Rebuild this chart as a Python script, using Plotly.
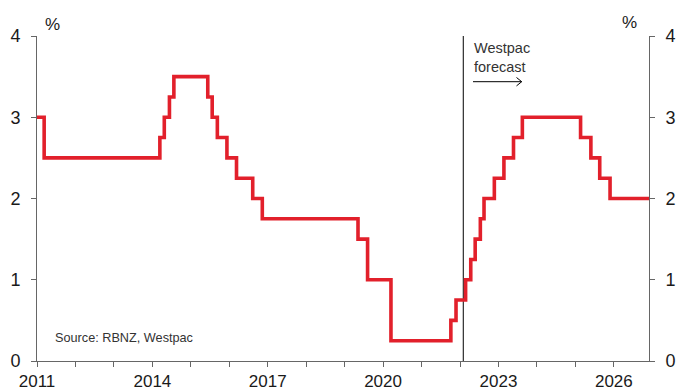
import plotly.graph_objects as go

# ---- data ----
dates = ["2011-01-01", "2011-03-10", "2014-03-13", "2014-04-24", "2014-06-12", "2014-07-24",
         "2015-06-11", "2015-07-23", "2015-09-10", "2015-12-10", "2016-03-10", "2016-08-11",
         "2016-11-10", "2019-05-08", "2019-08-07", "2020-03-16", "2021-10-06", "2021-11-24",
         "2022-02-23", "2022-04-13", "2022-05-25", "2022-07-13", "2022-08-17", "2022-11-23",
         "2023-02-22", "2023-05-24", "2023-08-16", "2025-02-19", "2025-05-28", "2025-08-20",
         "2025-11-26", "2026-12-01"]
ocr = [3.0, 2.5, 2.75, 3.0, 3.25, 3.5,
       3.25, 3.0, 2.75, 2.5, 2.25, 2.0,
       1.75, 1.5, 1.0, 0.25, 0.5, 0.75,
       1.0, 1.25, 1.5, 1.75, 2.0, 2.25,
       2.5, 2.75, 3.0, 2.75, 2.5, 2.25,
       2.0, 2.0]
forecast_start = "2022-02-01"
x_tick_years = list(range(2011, 2027))
x_tick_labels = [str(y) if (y - 2011) % 3 == 0 else "" for y in x_tick_years]
y_ticks = [0, 1, 2, 3, 4]

# ---- layout geometry ----
W, H = 677, 392
L, R, T, B = 37, 28, 36, 31
PW, PH = W - L - R, H - T - B


def px(x):
    return (x - L) / PW


def py(y):
    return (H - B - y) / PH


FONT = "Liberation Sans, Arial, sans-serif"
AX = "#666666"
TXT = "#1a1a1a"

fig = go.Figure()
fig.add_trace(go.Scatter(x=dates, y=ocr, mode="lines", line=dict(color="#E2202B", width=3.6, shape="hv"),
                         showlegend=False, hoverinfo="skip"))
# invisible trace for right axis
fig.add_trace(go.Scatter(x=[dates[0]], y=[0], yaxis="y2", mode="markers", marker=dict(opacity=0),
                         showlegend=False, hoverinfo="skip"))

axis_common = dict(range=[0, 4], tickvals=y_ticks, showgrid=False, zeroline=False, showline=True,
                   linecolor=AX, linewidth=1, ticks="outside", ticklen=5, tickcolor=AX,
                   tickfont=dict(family=FONT, size=18, color=TXT), ticklabelstandoff=7,
                   fixedrange=True, automargin=False)

fig.update_layout(
    width=W, height=H, margin=dict(l=L, r=R, t=T, b=B, autoexpand=False),
    paper_bgcolor="white", plot_bgcolor="white",
    xaxis=dict(type="date", range=["2011-01-01", "2026-12-01"],
               tickvals=[f"{y}-01-01" for y in x_tick_years], ticktext=x_tick_labels,
               showgrid=False, zeroline=False, showline=True, linecolor=AX, linewidth=1,
               ticks="outside", ticklen=5, tickcolor=AX, automargin=False,
               tickfont=dict(family=FONT, size=17, color=TXT)),
    yaxis=dict(**axis_common, side="left"),
    yaxis2=dict(**axis_common, side="right", overlaying="y", anchor="x"),
    shapes=[
        dict(type="line", xref="x", yref="paper", x0=forecast_start, x1=forecast_start, y0=0, y1=1,
             line=dict(color="black", width=1), layer="below"),
        dict(type="path", xref="paper", yref="paper",
             path=f"M{px(473)},{py(81.7)} L{px(521.7)},{py(81.7)} "
                  f"M{px(516.5)},{py(77.5)} L{px(521.7)},{py(81.7)} L{px(516.5)},{py(85.9)}",
             line=dict(color="black", width=1)),
    ],
    annotations=[
        dict(text="%", xref="paper", yref="paper", x=px(52.5), y=py(24), showarrow=False,
             xanchor="center", yanchor="middle",
             font=dict(family=FONT, size=17, color=TXT)),
        dict(text="%", xref="paper", yref="paper", x=px(629.5), y=py(23), showarrow=False,
             xanchor="center", yanchor="middle",
             font=dict(family=FONT, size=17, color=TXT)),
        dict(text="Westpac<br>forecast", xref="paper", yref="paper", x=px(472), y=py(38),
             xanchor="left", yanchor="top", align="left", showarrow=False,
             font=dict(family=FONT, size=14.5, color="#333333")),
        dict(text="Source: RBNZ, Westpac", xref="paper", yref="paper", x=px(52.5), y=py(338),
             xanchor="left", yanchor="middle", showarrow=False,
             font=dict(family=FONT, size=12.7, color="#333333")),
    ],
)

fig.write_html("out.html")
